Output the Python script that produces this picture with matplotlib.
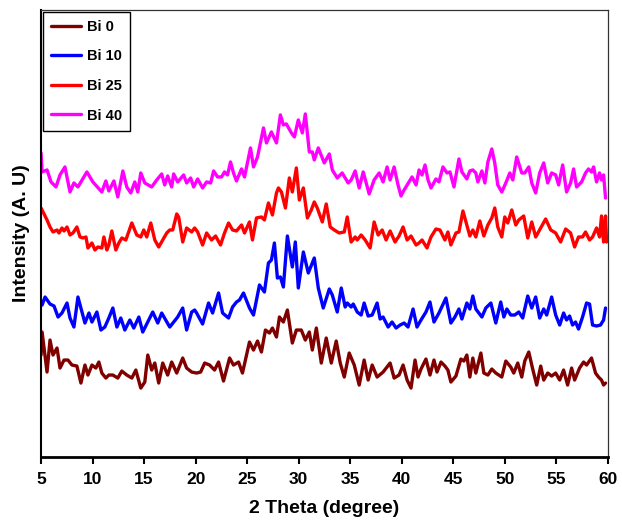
import matplotlib.pyplot as plt
import numpy as np

## XRD patterns of the Bi-doped glass samples (offset, arbitrary units)
bi0_x = [5.0, 5.10, 5.58, 5.87, 6.16, 6.55, 6.84, 7.23, 7.61, 8.00, 8.48, 8.87, 9.26, 9.55, 9.94,
         10.32, 10.61, 10.90, 11.29, 11.58, 11.97, 12.45, 12.84, 13.32, 13.81, 14.20, 14.68, 15.07,
         15.36, 15.74, 16.04, 16.42, 16.81, 17.29, 17.68, 18.17, 18.75, 19.13, 19.62, 20.10, 20.49,
         20.88, 21.36, 21.84, 22.23, 22.71, 23.30, 23.68, 24.17, 24.55, 25.23, 25.62, 26.01, 26.39,
         26.78, 27.17, 27.46, 27.85, 28.14, 28.52, 28.91, 29.39, 29.78, 30.26, 30.65, 31.04, 31.33,
         31.72, 32.20, 32.68, 33.17, 33.65, 34.04, 34.43, 34.91, 35.40, 35.88, 36.36, 36.75, 37.14,
         37.62, 38.20, 38.88, 39.27, 39.75, 40.14, 40.53, 40.91, 41.30, 41.59, 41.88, 42.36, 42.75,
         43.14, 43.43, 43.82, 44.20, 44.49, 44.78, 45.27, 45.75, 46.04, 46.33, 46.62, 46.91, 47.20,
         47.69, 47.98, 48.37, 48.75, 49.14, 49.72, 50.11, 50.59, 50.88, 51.27, 51.66, 51.95, 52.34,
         52.72, 53.11, 53.50, 53.79, 54.18, 54.56, 54.95, 55.34, 55.72, 56.11, 56.50, 56.79, 57.27,
         57.66, 57.95, 58.43, 58.82, 59.11, 59.40, 59.60, 59.79]
bi0_y = [107, 130, 90, 122, 107, 114, 94, 102, 102, 97, 96, 79, 97, 87, 97,
         94, 100, 89, 84, 87, 87, 84, 91, 87, 84, 92, 74, 80,
         107, 92, 99, 79, 99, 87, 100, 89, 104, 94, 90, 89, 90,
         99, 97, 92, 100, 81, 104, 97, 100, 89, 120, 112, 121, 110,
         132, 129, 134, 125, 145, 140, 152, 119, 132, 132, 122, 130, 112,
         134, 99, 124, 99, 121, 99, 85, 109, 97, 77, 102, 82, 97,
         85, 90, 99, 84, 87, 97, 82, 74, 102, 85, 93, 103, 87,
         102, 90, 100, 96, 92, 80, 86, 103, 101, 107, 85, 104, 89,
         109, 89, 87, 93, 89, 85, 101, 95, 89, 99, 85, 101, 110,
         93, 77, 96, 82, 89, 86, 89, 82, 92, 77, 94, 82, 94,
         100, 97, 104, 89, 85, 82, 77, 79]

bi10_x = [5.0, 5.10, 5.39, 5.87, 6.26, 6.65, 7.03, 7.52, 7.81, 8.19, 8.58, 8.97, 9.26, 9.65, 9.94,
          10.42, 10.81, 11.19, 11.58, 11.97, 12.36, 12.74, 13.13, 13.62, 14.00, 14.49, 14.87, 15.36,
          15.84, 16.33, 16.71, 17.10, 17.49, 17.87, 18.26, 18.75, 19.13, 19.62, 19.91, 20.10, 20.68,
          21.26, 21.65, 22.23, 22.62, 23.20, 23.59, 23.97, 24.26, 24.65, 25.23, 25.62, 26.20, 26.68,
          27.07, 27.36, 27.65, 27.94, 28.23, 28.52, 28.91, 29.39, 29.68, 29.97, 30.46, 30.94, 31.52,
          31.91, 32.39, 32.98, 33.27, 33.75, 34.14, 34.52, 34.72, 35.10, 35.30, 35.69, 36.07, 36.36,
          36.75, 37.14, 37.62, 37.91, 38.20, 38.69, 39.07, 39.46, 39.85, 40.24, 40.62, 41.11, 41.49,
          41.88, 42.36, 42.75, 43.14, 43.62, 44.30, 44.78, 45.17, 45.56, 45.85, 46.33, 46.62, 46.91,
          47.20, 47.79, 48.17, 48.66, 49.14, 49.62, 49.92, 50.21, 50.59, 50.98, 51.37, 51.75, 52.24,
          52.63, 53.01, 53.40, 53.79, 54.08, 54.56, 54.95, 55.34, 55.72, 56.01, 56.30, 56.59, 56.88,
          57.17, 57.56, 57.95, 58.24, 58.53, 58.92, 59.30, 59.60, 59.79]
bi10_y = [161, 157, 165, 158, 156, 145, 149, 159, 144, 135, 165, 150, 139, 149, 140,
          150, 132, 135, 144, 154, 135, 144, 132, 142, 134, 145, 130, 140,
          150, 139, 149, 142, 135, 140, 145, 154, 132, 150, 152, 149, 138,
          159, 149, 169, 149, 144, 155, 160, 162, 169, 154, 147, 177, 170,
          199, 202, 219, 184, 185, 175, 226, 195, 220, 174, 210, 189, 204,
          174, 154, 173, 167, 150, 174, 155, 159, 155, 158, 150, 147, 159,
          146, 147, 159, 143, 145, 135, 140, 134, 137, 139, 135, 153, 135,
          142, 150, 160, 140, 149, 164, 139, 145, 153, 143, 159, 153, 166,
          153, 145, 154, 159, 139, 160, 145, 153, 147, 147, 150, 144, 166,
          154, 165, 144, 153, 147, 165, 147, 137, 149, 142, 146, 137, 140,
          133, 145, 159, 158, 137, 136, 137, 142, 154]

bi25_x = [5.0, 5.19, 5.58, 5.87, 6.16, 6.55, 6.74, 7.03, 7.23, 7.52, 7.81, 8.10, 8.48, 8.78, 9.07,
          9.36, 9.55, 9.94, 10.23, 10.52, 10.90, 11.10, 11.39, 11.58, 11.87, 12.26, 12.55, 12.84,
          13.23, 13.81, 14.29, 14.68, 14.97, 15.26, 15.65, 16.04, 16.42, 16.81, 17.20, 17.49, 17.78,
          18.17, 18.36, 18.75, 19.13, 19.62, 19.91, 20.20, 20.68, 21.07, 21.55, 21.94, 22.42, 22.81,
          23.20, 23.59, 23.97, 24.46, 24.75, 25.23, 25.52, 25.91, 26.39, 26.68, 27.07, 27.46, 27.85,
          28.04, 28.33, 28.72, 29.10, 29.39, 29.78, 30.07, 30.46, 30.85, 31.23, 31.52, 31.81, 32.30,
          32.68, 33.07, 33.46, 33.94, 34.43, 34.72, 35.10, 35.49, 35.69, 36.07, 36.46, 36.94, 37.33,
          37.72, 38.11, 38.49, 38.88, 39.36, 39.75, 40.14, 40.53, 40.91, 41.40, 41.69, 41.98, 42.46,
          42.85, 43.33, 43.72, 44.20, 44.49, 44.78, 45.27, 45.56, 45.95, 46.33, 46.62, 46.91, 47.20,
          47.59, 47.98, 48.37, 48.75, 49.04, 49.33, 49.72, 50.01, 50.30, 50.69, 51.08, 51.37, 51.85,
          52.24, 52.63, 53.01, 53.50, 53.98, 54.47, 54.95, 55.43, 55.92, 56.40, 56.79, 57.17, 57.56,
          57.85, 58.24, 58.53, 58.92, 59.21, 59.40, 59.60, 59.79, 59.89]
bi25_y = [254, 250, 242, 235, 230, 232, 229, 234, 231, 235, 227, 229, 235, 225, 224,
          225, 214, 219, 212, 215, 214, 225, 212, 217, 231, 212, 219, 224,
          222, 239, 227, 225, 232, 225, 239, 222, 215, 222, 229, 232, 232,
          248, 245, 220, 234, 230, 234, 230, 217, 229, 222, 226, 217, 229,
          239, 232, 231, 237, 229, 240, 222, 244, 245, 242, 259, 247, 269,
          274, 270, 254, 284, 270, 294, 262, 274, 244, 252, 260, 254, 240,
          258, 235, 232, 229, 230, 245, 220, 225, 222, 227, 222, 214, 240,
          227, 232, 222, 231, 220, 226, 235, 222, 226, 217, 219, 222, 214,
          225, 233, 232, 222, 230, 217, 229, 230, 251, 237, 226, 232, 225,
          241, 226, 237, 244, 254, 235, 225, 245, 239, 252, 237, 242, 246,
          224, 240, 225, 234, 243, 232, 229, 220, 233, 229, 215, 225, 225,
          230, 222, 225, 234, 225, 246, 220, 246, 220]

bi40_x = [5.0, 5.10, 5.58, 5.97, 6.45, 6.84, 7.32, 7.81, 8.19, 8.58, 9.45, 10.03, 10.90, 11.29, 11.58,
          12.07, 12.45, 12.94, 13.32, 13.71, 14.10, 14.39, 14.68, 15.07, 15.74, 16.23, 16.71, 17.00,
          17.29, 17.68, 17.87, 18.26, 18.84, 19.13, 19.52, 19.81, 20.20, 20.68, 21.07, 21.46, 21.75,
          22.13, 22.52, 22.81, 23.10, 23.39, 23.68, 23.97, 24.46, 24.75, 25.33, 25.62, 26.01, 26.59,
          26.88, 27.36, 27.85, 28.23, 28.52, 28.81, 29.30, 29.59, 29.97, 30.36, 30.65, 31.04, 31.33,
          31.52, 31.91, 32.49, 32.98, 33.27, 33.75, 34.23, 34.81, 35.10, 35.49, 35.88, 36.27, 36.85,
          37.33, 37.82, 38.20, 38.59, 38.88, 39.27, 39.65, 39.94, 40.24, 40.72, 41.01, 41.40, 41.69,
          41.98, 42.27, 42.56, 42.85, 43.33, 43.62, 44.01, 44.40, 44.69, 45.08, 45.56, 45.85, 46.33,
          46.62, 46.91, 47.20, 47.40, 47.79, 48.08, 48.37, 48.75, 49.04, 49.33, 49.72, 50.11, 50.50,
          50.79, 51.17, 51.66, 51.95, 52.34, 52.63, 53.01, 53.40, 53.79, 54.18, 54.56, 54.95, 55.24,
          55.63, 56.01, 56.40, 56.69, 56.98, 57.47, 57.85, 58.14, 58.43, 58.63, 58.92, 59.21, 59.40,
          59.60, 59.79]
bi40_y = [309, 290, 292, 280, 275, 287, 295, 270, 279, 275, 290, 280, 270, 281, 271,
          281, 265, 291, 275, 269, 280, 270, 289, 279, 275, 282, 288, 277,
          286, 275, 288, 280, 287, 279, 284, 275, 283, 274, 280, 279, 291,
          285, 285, 290, 287, 300, 289, 281, 293, 285, 314, 295, 305, 334,
          319, 330, 319, 347, 337, 338, 329, 325, 342, 329, 348, 310, 310,
          302, 314, 299, 308, 292, 284, 289, 279, 282, 291, 274, 290, 268,
          282, 289, 280, 295, 282, 295, 277, 266, 272, 280, 285, 277, 292,
          287, 297, 282, 274, 283, 280, 295, 289, 290, 275, 303, 290, 283,
          291, 292, 289, 280, 291, 279, 300, 313, 299, 277, 270, 279, 289,
          282, 305, 289, 289, 295, 279, 269, 289, 299, 279, 289, 287, 277,
          297, 270, 279, 293, 275, 280, 289, 293, 290, 295, 280, 289, 282,
          287, 264]

labels = ['Bi 0', 'Bi 10', 'Bi 25', 'Bi 40']
colors = ['#800000', '#0000ff', '#ff0000', '#ff00ff']

plt.rcParams['font.family'] = ['Liberation Sans', 'DejaVu Sans']
plt.rcParams['font.weight'] = 'bold'

fig = plt.figure(figsize=(6.22, 5.2), dpi=100)
ax = fig.add_axes([0.066, 0.121, 0.911, 0.860])

series = [(bi0_x, bi0_y), (bi10_x, bi10_y), (bi25_x, bi25_y), (bi40_x, bi40_y)]
for (xs, ys), lab, col in zip(series, labels, colors):
    ax.plot(xs, ys, color=col, lw=2.4, label=lab,
            solid_joinstyle='round', solid_capstyle='round')

ax.set_xlim(5, 60)
ax.set_ylim(5, 452)
ax.set_xticks(np.arange(5, 61, 5))
ax.set_yticks([])
ax.tick_params(axis='x', direction='out', length=5, width=1.5, labelsize=12.5, pad=6)
for lbl in ax.get_xticklabels():
    lbl.set_fontweight('bold')

ax.spines['bottom'].set_linewidth(2.0)
ax.spines['left'].set_linewidth(1.5)
ax.spines['top'].set_linewidth(0.9)
ax.spines['right'].set_linewidth(0.9)
ax.spines['top'].set_color('#333333')
ax.spines['right'].set_color('#333333')

ax.set_xlabel('2 Theta (degree)', fontsize=14, fontweight='bold', labelpad=9)
ax.set_ylabel('Intensity (A. U)', fontsize=14, fontweight='bold', labelpad=8)

leg = ax.legend(loc='upper left', bbox_to_anchor=(0.003, 0.996), borderaxespad=0,
                fancybox=False, edgecolor='black', framealpha=1,
                handlelength=2.1, handletextpad=0.4, labelspacing=1.07, borderpad=0.55,
                prop={'weight': 'bold', 'size': 10.5})
leg.get_frame().set_linewidth(1.0)

fig.savefig('out.png', dpi=100)
